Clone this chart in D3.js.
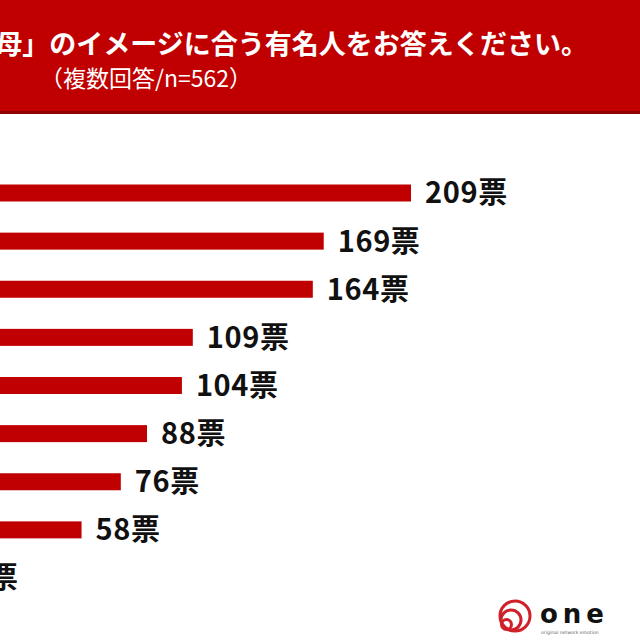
<!DOCTYPE html>
<html>
<head>
<meta charset="utf-8">
<script src="https://cdn.jsdelivr.net/npm/d3@7"></script>
<style>
	html, body { margin: 0; padding: 0; background: #fff; }
	svg { display: block; }
</style>
</head>
<body>
<div id="chart"></div>
<script>
// data (category names are outside the visible crop)
const ranks = [1, 2, 3, 4, 5, 6, 7, 8, 9];
const votes = [209, 169, 164, 109, 104, 88, 76, 58, 1];
const unit = "票";
const titleText = "母」のイメージに合う有名人をお答えください。";
const subtitleText = "（複数回答/n=562）";

const WIDTH = 640;
const HEIGHT = 640;
const RED = "#c00000";
const FONT = "'Noto Sans CJK JP', 'Noto Sans', sans-serif";
const BAR_HEIGHT = 17;
const LABEL_PADDING = 14;

const svg = d3.select("#chart").append("svg")
	.attr("width", WIDTH)
	.attr("height", HEIGHT);

// header band
svg.append("rect")
	.attr("x", 0).attr("y", 0)
	.attr("width", WIDTH).attr("height", 114)
	.attr("fill", RED);
svg.append("rect")
	.attr("x", 0).attr("y", 111)
	.attr("width", WIDTH).attr("height", 3)
	.attr("fill", "#8e0000");

svg.append("text")
	.attr("x", 588)
	.attr("y", 54)
	.attr("text-anchor", "end")
	.attr("fill", "#fff")
	.style("font-family", FONT)
	.style("font-weight", "bold")
	.style("font-size", "27px")
	.text(titleText);

svg.append("text")
	.attr("x", 40)
	.attr("y", 87)
	.attr("fill", "#fff")
	.style("font-family", FONT)
	.style("font-size", "23px")
	.text(subtitleText);

// scales - the zero line sits left of the visible area
const x = d3.scaleLinear()
	.domain([0, d3.max(votes)])
	.range([-45, 411]);

const y = d3.scalePoint()
	.domain(ranks)
	.range([193, 578]);

const rows = ranks.map((r, i) => ({rank: r, value: votes[i]}));

svg.append("g")
	.attr("class", "bars")
	.selectAll("rect")
	.data(rows)
	.join("rect")
	.attr("fill", RED)
	.attr("x", x(0))
	.attr("y", d => y(d.rank) - BAR_HEIGHT / 2)
	.attr("width", d => x(d.value) - x(0))
	.attr("height", BAR_HEIGHT);

svg.append("g")
	.attr("class", "labels")
	.selectAll("text")
	.data(rows)
	.join("text")
	.attr("x", d => x(d.value) + LABEL_PADDING)
	.attr("y", d => y(d.rank))
	.attr("dy", "0.36em")
	.attr("fill", "#111")
	.style("font-family", FONT)
	.style("font-weight", "bold")
	.style("font-size", "29px")
	.style("letter-spacing", "0.6px")
	.text(d => d.value + unit);

// logo
const logo = svg.append("g").attr("class", "logo");
[[515, 616, 15], [511, 620, 10], [506.5, 624.5, 5]].forEach(([cx, cy, r]) => {
	logo.append("circle")
		.attr("cx", cx).attr("cy", cy).attr("r", r)
		.attr("fill", "none")
		.attr("stroke", "#d0202a")
		.attr("stroke-width", 3);
});
logo.append("text")
	.attr("x", 540)
	.attr("y", 623)
	.attr("fill", "#111")
	.style("font-family", "'DejaVu Sans', sans-serif")
	.style("font-weight", "bold")
	.style("font-size", "26px")
	.style("letter-spacing", "5px")
	.text("one");
logo.append("text")
	.attr("x", 541)
	.attr("y", 634)
	.attr("fill", "#666")
	.style("font-family", "'DejaVu Sans', sans-serif")
	.style("font-size", "4.6px")
	.text("original network emotion");
</script>
</body>
</html>
